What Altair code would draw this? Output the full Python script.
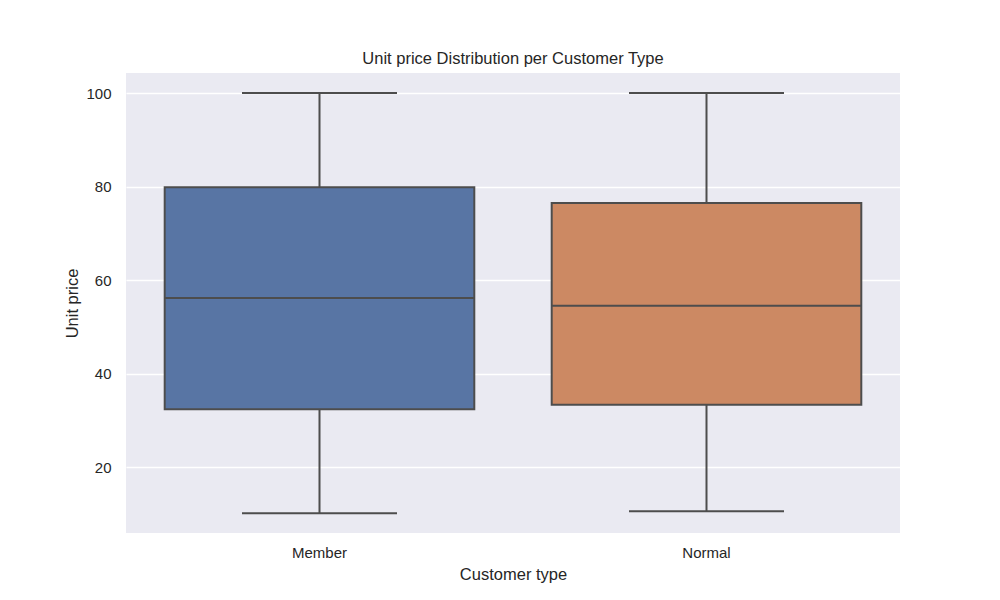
import altair as alt
import pandas as pd

customer_types = ["Member", "Normal"]
whisker_low = [10.2, 10.65]
q1 = [32.45, 33.4]
median = [56.2, 54.55]
q3 = [79.9, 76.5]
whisker_high = [100.0, 100.0]
box_colors = ["#5875A4", "#CC8963"]

df = pd.DataFrame({
    "type": customer_types,
    "low": whisker_low,
    "q1": q1,
    "median": median,
    "q3": q3,
    "high": whisker_high,
})

FONT = "Liberation Sans"
LINE = "#4D4D4D"
TXT = "#262626"

x = alt.X(
    "type:N",
    scale=alt.Scale(domain=customer_types, paddingInner=0, paddingOuter=0),
    axis=alt.Axis(title="Customer type", labelAngle=0, grid=False),
)
yscale = alt.Scale(domain=[6.0, 104.3], nice=False, zero=False)
yaxis = alt.Axis(title="Unit price", values=[20, 40, 60, 80, 100], grid=True)

base = alt.Chart(df)

whisk_lo = base.mark_rule(color=LINE, strokeWidth=2).encode(
    x=x, y=alt.Y("low:Q", scale=yscale, axis=yaxis), y2="q1:Q"
)
whisk_hi = base.mark_rule(color=LINE, strokeWidth=2).encode(
    x=x, y=alt.Y("q3:Q", scale=yscale, axis=yaxis), y2="high:Q"
)
box = base.mark_bar(
    width=alt.RelativeBandSize(0.8), stroke=LINE, strokeWidth=2
).encode(
    x=x,
    y=alt.Y("q1:Q", scale=yscale, axis=yaxis),
    y2="q3:Q",
    color=alt.Color("type:N", scale=alt.Scale(domain=customer_types, range=box_colors), legend=None),
)
med = base.mark_tick(size=310, thickness=2, color=LINE, opacity=1).encode(
    x=x, y=alt.Y("median:Q", scale=yscale, axis=yaxis)
)
cap_lo = base.mark_tick(size=155, thickness=2, color=LINE, opacity=1).encode(
    x=x, y=alt.Y("low:Q", scale=yscale, axis=yaxis)
)
cap_hi = base.mark_tick(size=155, thickness=2, color=LINE, opacity=1).encode(
    x=x, y=alt.Y("high:Q", scale=yscale, axis=yaxis)
)

chart = alt.layer(whisk_lo, whisk_hi, box, med, cap_lo, cap_hi).properties(
    width=774,
    height=460,
    autosize=alt.AutoSizeParams(type="none"),
    padding={"left": 126, "top": 73, "right": 100, "bottom": 67},
    background="white",
    title=alt.TitleParams(
        "Unit price Distribution per Customer Type",
        font=FONT, fontSize=16.5, fontWeight="normal", color=TXT, offset=6,
    ),
).configure_view(
    stroke=None, fill="#EAEAF2"
).configure_axis(
    labelFont=FONT, labelFontSize=15, labelColor=TXT,
    titleFont=FONT, titleFontSize=16.5, titleColor=TXT, titleFontWeight="normal",
    domain=False, ticks=False, gridColor="white", gridWidth=1.3,
    labelPadding=12,
).configure_axisY(
    titlePadding=5, labelPadding=15
).configure_axisX(
    titlePadding=6
)

chart.save("out.html", embed_options={"renderer": "svg", "actions": False})
